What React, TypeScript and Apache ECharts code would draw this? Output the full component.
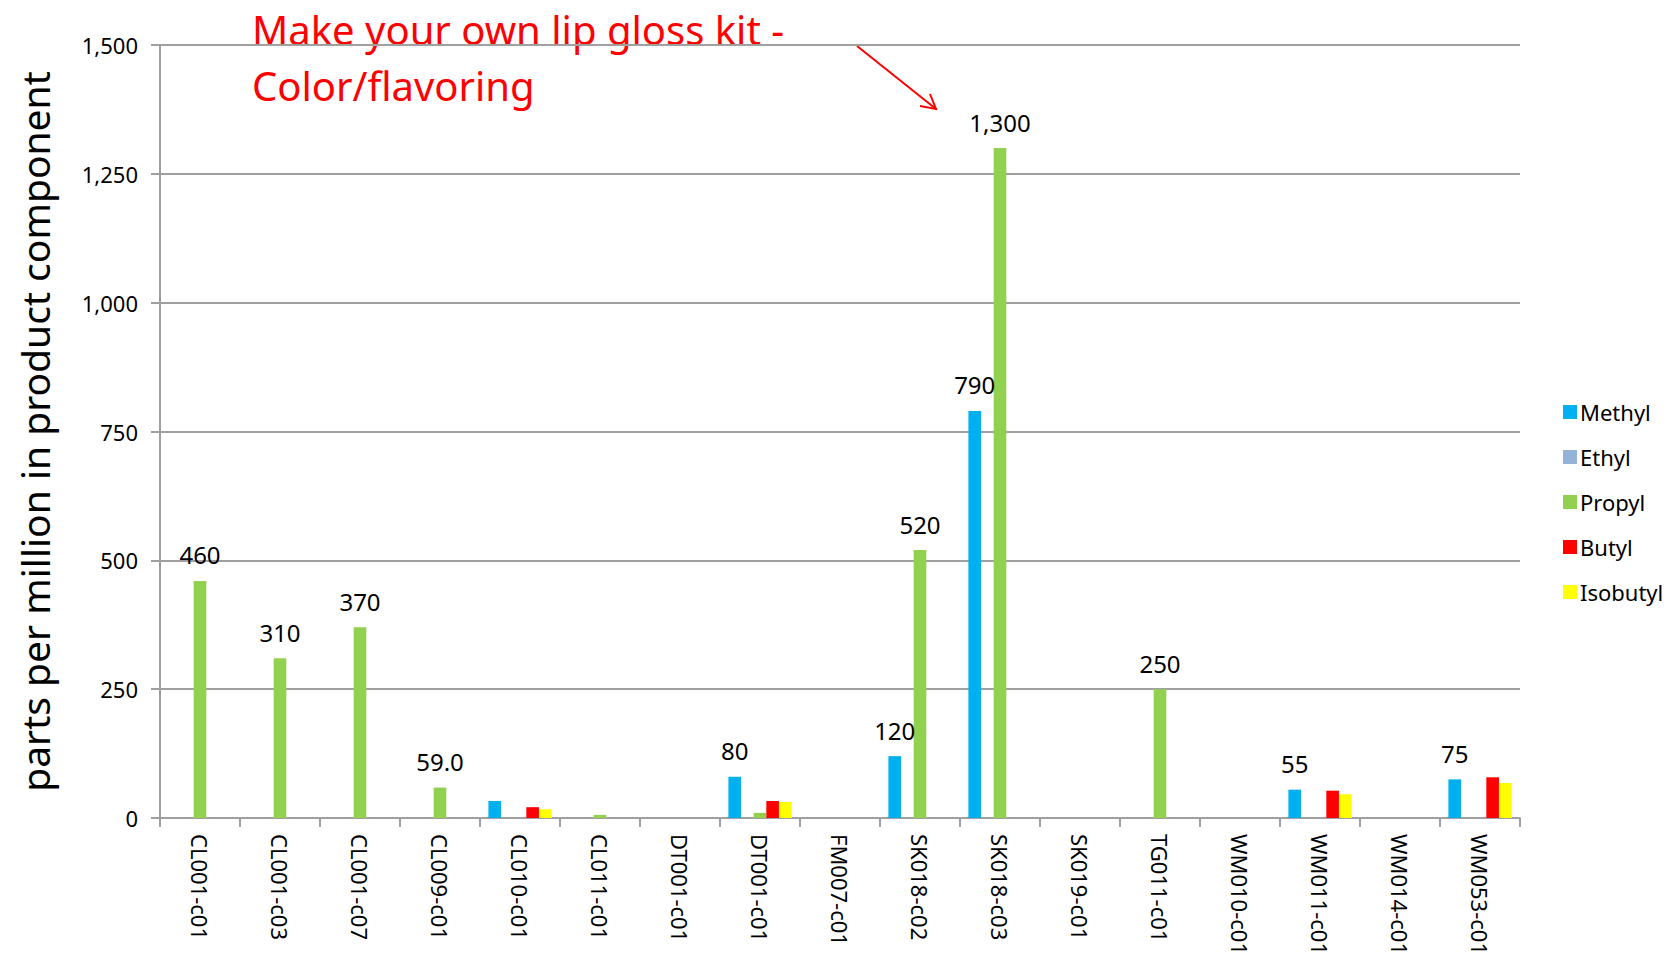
import React, { useEffect, useRef } from "react";
import * as echarts from "echarts";

const categoryLabels = [
  "CL001-c01", "CL001-c03", "CL001-c07", "CL009-c01", "CL010-c01", "CL011-c01",
  "DT001-c01", "DT001-c01", "FM007-c01", "SK018-c02", "SK018-c03", "SK019-c01",
  "TG011-c01", "WM010-c01", "WM011-c01", "WM014-c01", "WM053-c01",
];

const methyl = [0, 0, 0, 0, 33, 0, 0, 80, 0, 120, 790, 0, 0, 0, 55, 0, 75];
const ethyl = [0, 0, 0, 0, 0, 0, 0, 0, 0, 0, 0, 0, 0, 0, 0, 0, 0];
const propyl = [460, 310, 370, 59, 0, 6, 0, 10, 0, 520, 1300, 0, 250, 0, 0, 0, 0];
const butyl = [0, 0, 0, 0, 21, 0, 0, 33, 0, 0, 0, 0, 0, 0, 53, 0, 79];
const isobutyl = [0, 0, 0, 0, 17, 0, 0, 31, 0, 0, 0, 0, 0, 0, 46, 0, 68];

const methylLabels = ["", "", "", "", "", "", "", "80", "", "120", "790", "", "", "", "55", "", "75"];
const propylLabels = ["460", "310", "370", "59.0", "", "", "", "", "", "520", "1,300", "", "250", "", "", "", ""];

const yTicks = [0, 250, 500, 750, 1000, 1250, 1500];

const titleLines = ["Make your own lip gloss kit -", "Color/flavoring"];

const FONT = "'Noto Sans', sans-serif";

export default function App() {
  const ref = useRef<HTMLDivElement>(null);
  useEffect(() => {
    if (!ref.current) return;
    const chart = echarts.init(ref.current, undefined, { renderer: "svg" });
    // duplicate category names must stay distinct for the category axis
    const cats = categoryLabels.map((c, i) => (i === 6 ? c + " " : c));
    const labelFn = (arr: string[]) => (p: any) => arr[p.dataIndex] || "";
    const mk = (name: string, data: number[], color: string, labels?: string[]) => ({
      name,
      type: "bar",
      data,
      barGap: "0%",
      barCategoryGap: "21%",
      itemStyle: { color },
      label: labels
        ? {
            show: true,
            position: "top",
            distance: 14,
            formatter: labelFn(labels),
            color: "#000",
            fontSize: 24,
            fontFamily: FONT,
          }
        : { show: false },
    });
    chart.setOption({
      animation: false,
      backgroundColor: "#fff",
      grid: { left: 160, right: 153, top: 45, bottom: 154, containLabel: false },
      legend: {
        orient: "vertical",
        left: 1558,
        top: 396,
        itemWidth: 14,
        itemHeight: 14,
        itemGap: 23,
        icon: "rect",
        textStyle: { fontSize: 22, fontFamily: FONT, color: "#000", padding: [0, 0, 0, -2] },
        data: ["Methyl", "Ethyl", "Propyl", "Butyl", "Isobutyl"],
      },
      xAxis: {
        type: "category",
        data: cats,
        axisLine: { show: true, lineStyle: { color: "#a0a0a0", width: 2 } },
        axisTick: { show: true, alignWithLabel: false, length: 9, lineStyle: { color: "#a0a0a0", width: 2 } },
        axisLabel: {
          rotate: -90,
          interval: 0,
          margin: 16,
          fontSize: 22,
          fontFamily: FONT,
          color: "#000",
          formatter: (v: string) => v.trim(),
        },
      },
      yAxis: {
        type: "value",
        min: 0,
        max: 1500,
        interval: 250,
        name: "parts per million in product component",
        nameLocation: "middle",
        nameGap: 106,
        nameTextStyle: { fontSize: 39, fontFamily: FONT, color: "#000" },
        axisLine: { show: true, lineStyle: { color: "#a0a0a0", width: 2 } },
        axisTick: { show: true, length: 9, inside: false, lineStyle: { color: "#a0a0a0", width: 2 } },
        axisLabel: {
          fontSize: 22,
          fontFamily: FONT,
          color: "#000",
          margin: 22,
          formatter: (v: number) => (yTicks.includes(v) ? v.toLocaleString("en-US") : ""),
        },
        splitLine: { show: true, lineStyle: { color: "#a0a0a0", width: 2 } },
      },
      series: [
        mk("Methyl", methyl, "#00B0F0", methylLabels),
        mk("Ethyl", ethyl, "#95B3D7"),
        mk("Propyl", propyl, "#92D050", propylLabels),
        mk("Butyl", butyl, "#FF0000"),
        mk("Isobutyl", isobutyl, "#FFFF00"),
      ],
      graphic: [
        {
          type: "text",
          x: 252,
          y: 29,
          style: {
            text: titleLines[0],
            fill: "#FF0000",
            fontSize: 40,
            fontFamily: FONT,
            verticalAlign: "middle",
          },
        },
        {
          type: "text",
          x: 252,
          y: 85,
          style: {
            text: titleLines[1],
            fill: "#FF0000",
            fontSize: 40,
            fontFamily: FONT,
            verticalAlign: "middle",
          },
        },
        {
          type: "line",
          shape: { x1: 857, y1: 46, x2: 936, y2: 109 },
          style: { stroke: "#FF0000", lineWidth: 2 },
        },
        {
          type: "polyline",
          shape: { points: [[920, 106], [936, 109], [930, 94]] },
          style: { stroke: "#FF0000", lineWidth: 2, fill: "none" },
        },
      ],
    });
    return () => chart.dispose();
  }, []);
  return <div ref={ref} style={{ width: 1673, height: 972, margin: -8 }} />;
}
